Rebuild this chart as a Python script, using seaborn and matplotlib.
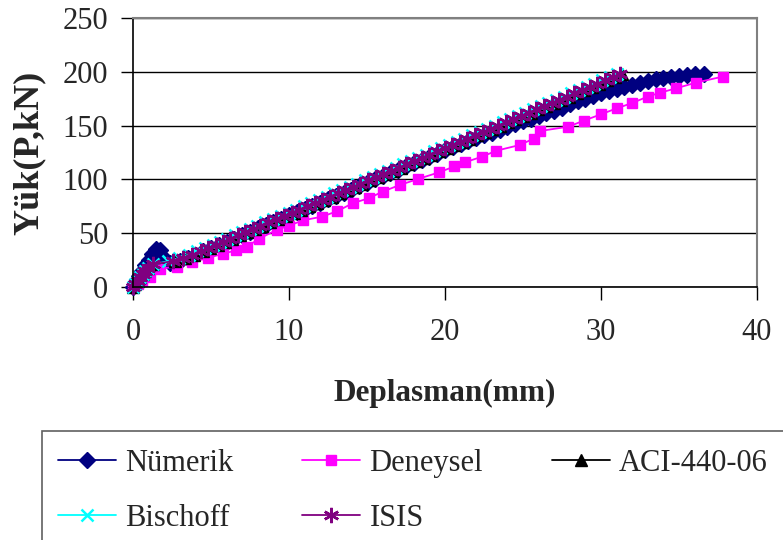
import matplotlib
matplotlib.use("Agg")
import matplotlib.pyplot as plt
import seaborn as sns
from matplotlib.patches import Rectangle

# ---------------- data ----------------
# analytical models: common load levels (kN)
loads_model = [0, 3, 6, 9, 12, 15, 18, 21, 24, 27, 30, 33, 36, 39, 42, 45, 48, 51, 54, 57,
               60, 63, 66, 69, 72, 75, 78, 81, 84, 87, 90, 93, 96, 99, 102, 105, 108, 111,
               114, 117, 120, 123, 126, 129, 132, 135, 138, 141, 144, 147, 150, 153, 156,
               159, 162, 165, 168, 171, 174, 177, 180, 183, 186, 189, 192, 195, 198]

disp_isis = [0, 0.16, 0.32, 0.48, 0.64, 0.80, 0.97, 1.25, 2.55, 3.20, 3.80, 4.33, 4.82, 5.30,
             5.77, 6.24, 6.71, 7.19, 7.68, 8.17, 8.67, 9.17, 9.67, 10.17, 10.66, 11.15, 11.64,
             12.13, 12.62, 13.11, 13.60, 14.09, 14.58, 15.07, 15.56, 16.05, 16.54, 17.03,
             17.52, 18.01, 18.50, 18.99, 19.48, 19.97, 20.46, 20.95, 21.44, 21.93, 22.42,
             22.91, 23.40, 23.89, 24.38, 24.87, 25.36, 25.85, 26.34, 26.83, 27.32, 27.81,
             28.30, 28.79, 29.28, 29.77, 30.26, 30.75, 31.20]

disp_bischoff = [0, 0.16, 0.32, 0.48, 0.64, 0.80, 0.97, 1.30, 2.25, 2.95, 3.58, 4.12, 4.62,
                 5.10, 5.57, 6.04, 6.51, 6.99, 7.48, 7.97, 8.47, 8.97, 9.47, 9.97, 10.46,
                 10.95, 11.44, 11.93, 12.42, 12.91, 13.40, 13.89, 14.38, 14.87, 15.36, 15.85,
                 16.34, 16.83, 17.32, 17.81, 18.30, 18.79, 19.28, 19.77, 20.26, 20.75, 21.24,
                 21.73, 22.22, 22.71, 23.20, 23.69, 24.18, 24.67, 25.16, 25.65, 26.14, 26.63,
                 27.12, 27.61, 28.10, 28.59, 29.08, 29.57, 30.06, 30.55, 31.00]

disp_aci = [0, 0.16, 0.32, 0.48, 0.64, 0.80, 0.97, 1.25, 2.70, 3.35, 3.94, 4.46, 4.95, 5.43,
            5.90, 6.37, 6.84, 7.32, 7.81, 8.30, 8.80, 9.30, 9.80, 10.30, 10.79, 11.28, 11.77,
            12.26, 12.75, 13.24, 13.73, 14.22, 14.71, 15.20, 15.69, 16.18, 16.67, 17.16,
            17.65, 18.14, 18.63, 19.12, 19.61, 20.10, 20.59, 21.08, 21.57, 22.06, 22.55,
            23.04, 23.53, 24.02, 24.51, 25.00, 25.49, 25.98, 26.47, 26.96, 27.45, 27.94,
            28.43, 28.92, 29.41, 29.90, 30.39, 30.88, 31.35]

# numerical (FE) results
disp_numerik = [0, 0.2, 0.4, 0.6, 0.8, 1.0, 1.2, 1.45, 1.75, 2.0, 2.4, 3.0, 3.5, 4.0, 4.5,
                5.0, 5.5, 6.0, 6.5, 7.0, 7.5, 8.0, 8.5, 9.0, 9.5, 10.0, 10.5, 11.0, 11.5,
                12.0, 12.5, 13.0, 13.5, 14.0, 14.5, 15.0, 15.5, 16.0, 16.5, 17.0, 17.5, 18.0,
                18.5, 19.0, 19.5, 20.0, 20.5, 21.0, 21.5, 22.0, 22.5, 23.0, 23.5, 24.0, 24.5,
                25.0, 25.5, 26.0, 26.5, 27.0, 27.5, 28.0, 28.5, 29.0, 29.5, 30.0, 30.5, 31.0,
                31.5, 32.0, 32.5, 33.0, 33.5, 34.0, 34.5, 35.0, 35.5, 36.0, 36.6]
load_numerik = [0, 5, 10, 15, 20, 25, 31, 35, 34, 27, 22, 24, 27, 30, 33, 36, 39, 42, 45, 48,
                51, 54.5, 57.5, 60.5, 63.5, 66.5, 69.5, 72.5, 75.5, 78.5, 81.5, 84.5, 87.5,
                90.5, 93.5, 96.5, 100, 103, 106, 109, 112, 115, 118, 121, 124, 127, 130, 133,
                135.5, 138.5, 141, 143.5, 146, 149, 151.5, 154, 156.5, 159, 161.5, 164, 166.5,
                170, 172.5, 175, 177.5, 180, 182, 184, 186, 188, 190, 191.5, 193, 194.5,
                195.5, 196.5, 197, 197.5, 197.5]

# experimental results
disp_deneysel = [0, 0.3, 0.6, 1.1, 1.7, 2.8, 3.8, 4.8, 5.8, 6.6, 7.3, 8.1, 9.2, 10.0, 10.9,
                 12.1, 13.1, 14.1, 15.1, 16.0, 17.1, 18.3, 19.6, 20.6, 21.3, 22.35, 23.3,
                 24.8, 25.7, 26.1, 27.9, 28.9, 30.0, 31.0, 32.0, 33.0, 33.8, 34.8, 36.1, 37.8]
load_deneysel = [0, 3, 6, 9.6, 17, 19, 23, 27, 31, 34, 37.5, 45, 53, 57, 62, 65.3, 70.5, 78,
                 82.4, 88.6, 94.8, 100.5, 106.5, 112, 116, 121, 126.7, 132, 138, 145, 149,
                 154.6, 160.5, 166, 171, 177, 180.6, 184.6, 190, 195.5]

x_ticks = [0, 10, 20, 30, 40]
y_ticks = [0, 50, 100, 150, 200, 250]

# ---------------- figure ----------------
sns.set_style("white")
plt.rcParams["font.family"] = ["Liberation Serif", "DejaVu Serif"]

fig = plt.figure(figsize=(7.83, 5.40), dpi=100)
ax = fig.add_axes([133 / 783, 1 - 287 / 540, (757 - 133) / 783, (287 - 18) / 540])

series = [
    ("Nümerik", disp_numerik, load_numerik, "#000080", "D", 8.0, 1.0),
    ("Deneysel", disp_deneysel, load_deneysel, "#FF00FF", "s", 7.5, 1.0),
    ("ACI-440-06", disp_aci, loads_model, "#000000", "^", 8.5, 1.0),
    ("Bischoff", disp_bischoff, loads_model, "#00FFFF", "x", 9.0, 1.8),
    ("ISIS", disp_isis, loads_model, "#800080", (6, 2, 0), 11.0, 1.8),
]

for name, xs, ys, col, mk, ms, mew in series:
    sns.lineplot(x=xs, y=ys, ax=ax, sort=False, estimator=None, color=col,
                 marker=mk, markersize=ms, markeredgecolor=col, markerfacecolor=col,
                 markeredgewidth=mew, linewidth=1.3, label=name, clip_on=False)

ax.set_xlim(0, 40)
ax.set_ylim(0, 250)
ax.set_xticks(x_ticks)
ax.set_yticks(y_ticks)
ax.yaxis.grid(True, color="#000000", linewidth=1.0)
ax.xaxis.grid(False)
ax.set_axisbelow(True)

for s in ["left", "bottom"]:
    ax.spines[s].set_color("black")
    ax.spines[s].set_linewidth(1.2)
for s in ["top", "right"]:
    ax.spines[s].set_color("#808080")
    ax.spines[s].set_linewidth(1.5)

ax.tick_params(axis="both", direction="out", length=9, width=1.0, color="black",
               labelsize=22, bottom=True, left=True)
ax.tick_params(axis="y", pad=9)
ax.tick_params(axis="x", pad=13)

ax.set_xlabel("Deplasman(mm)", fontsize=22.5, fontweight="bold", labelpad=23)
ax.set_ylabel("Yük(P,kN)", fontsize=26, fontweight="bold", labelpad=12)

handles, labels = ax.get_legend_handles_labels()
ax.get_legend().remove()
hmap = dict(zip(labels, handles))
# column-major order so that rows read: Nümerik, Deneysel, ACI-440-06 / Bischoff, ISIS
order = ["Nümerik", "Bischoff", "Deneysel", "ISIS", "ACI-440-06"]
fig.legend([hmap[k] for k in order], order, ncol=3, loc="upper left",
           bbox_to_anchor=(58 / 783, 1 - 449 / 540), frameon=False,
           fontsize=22, handlelength=1.9, handletextpad=0.3, columnspacing=2.25,
           labelspacing=0.85, borderpad=0, borderaxespad=0)

fig.patches.append(Rectangle((42 / 783, -0.2), 1.2, 0.2 + (540 - 431) / 540,
                             transform=fig.transFigure, fill=False,
                             edgecolor="#606060", linewidth=1.2))

fig.savefig("out.png", dpi=100)
